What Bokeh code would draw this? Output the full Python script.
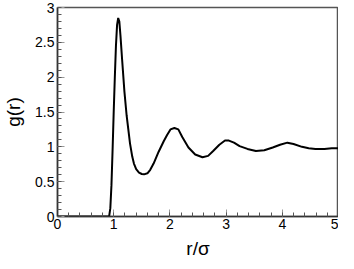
from bokeh.plotting import figure
from bokeh.models import Range1d, SingleIntervalTicker
from bokeh.embed import file_html
from bokeh.resources import INLINE

r = [0.0, 0.5, 0.90, 0.92, 0.94, 0.96, 0.98, 1.00, 1.02, 1.04, 1.06, 1.08, 1.10,
     1.12, 1.15, 1.19, 1.23, 1.26, 1.29, 1.33, 1.36, 1.40, 1.45, 1.50, 1.54,
     1.60, 1.65, 1.71, 1.80, 1.89, 1.95, 2.01, 2.08, 2.15, 2.22, 2.33, 2.45,
     2.58, 2.68, 2.77, 2.88, 2.98, 3.05, 3.14, 3.24, 3.38, 3.53, 3.68, 3.83,
     3.96, 4.09, 4.20, 4.35, 4.47, 4.59, 4.75, 4.88, 5.0]
g = [0.0, 0.0, 0.0, 0.01, 0.12, 0.45, 0.95, 1.50, 2.00, 2.45, 2.75, 2.85, 2.80,
     2.60, 2.25, 1.80, 1.45, 1.25, 1.05, 0.86, 0.76, 0.68, 0.63, 0.61, 0.605,
     0.62, 0.67, 0.76, 0.93, 1.08, 1.17, 1.25, 1.27, 1.25, 1.14, 0.99, 0.89,
     0.85, 0.87, 0.94, 1.03, 1.09, 1.09, 1.06, 1.01, 0.97, 0.94, 0.95, 0.99,
     1.03, 1.06, 1.04, 1.00, 0.98, 0.97, 0.97, 0.98, 0.98]

x_label = "r/σ"
y_label = "g(r)"

p = figure(width=338, height=261, output_backend="svg", toolbar_location=None,
           x_range=Range1d(0, 5), y_range=Range1d(0, 3),
           min_border_left=0, min_border_right=0, min_border_top=7,
           min_border_bottom=0)
p.line(r, g, line_color="black", line_width=2)

p.grid.visible = False
p.outline_line_color = "#555555"
p.outline_line_width = 1.5
p.background_fill_color = "white"
p.border_fill_color = "white"

p.xaxis.ticker = SingleIntervalTicker(interval=1, num_minor_ticks=5)
p.yaxis.ticker = SingleIntervalTicker(interval=0.5, num_minor_ticks=5)

for ax in (p.xaxis[0], p.yaxis[0]):
    ax.major_tick_in = 7
    ax.major_tick_out = 0
    ax.minor_tick_in = 4
    ax.minor_tick_out = 0
    ax.major_tick_line_color = "#999999"
    ax.minor_tick_line_color = "#555555"
    ax.axis_line_color = "#333333"
    ax.axis_line_width = 1.5
    ax.major_label_text_font = "Liberation Sans"
    ax.major_label_text_font_size = "14px"
    ax.major_label_text_color = "black"
    ax.axis_label_text_font = "Liberation Sans"
    ax.axis_label_text_font_size = "19px"
    ax.axis_label_text_font_style = "normal"
    ax.axis_label_text_color = "black"

p.xaxis.axis_label = x_label
p.yaxis.axis_label = y_label
p.xaxis.major_label_standoff = 2
p.yaxis.major_label_standoff = 3
p.xaxis.axis_label_standoff = 6
p.yaxis.axis_label_standoff = 8

open("out.html", "w").write(file_html(p, INLINE))
